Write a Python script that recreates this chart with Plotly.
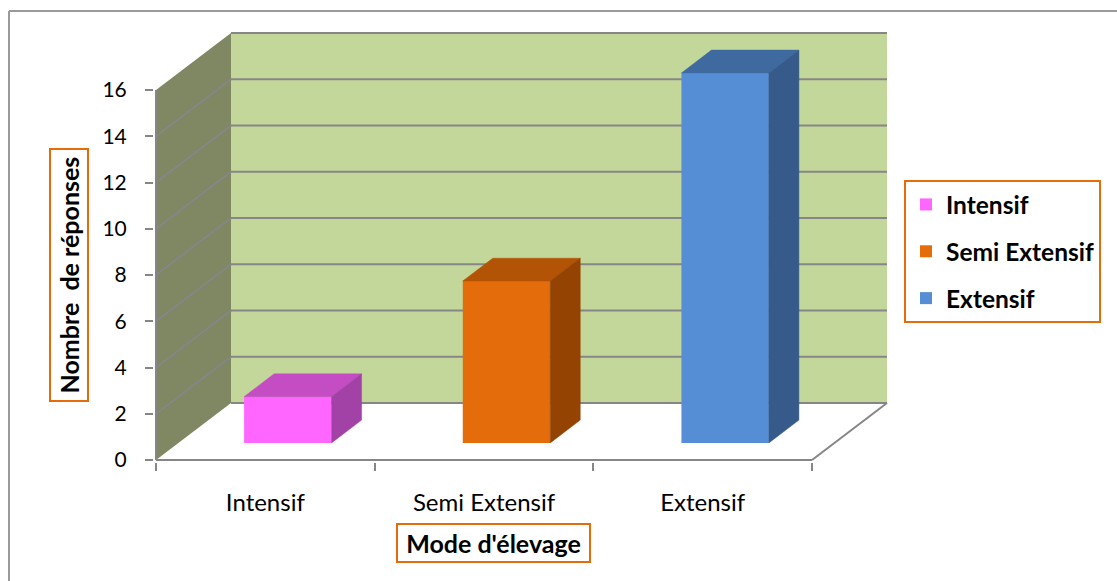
import plotly.graph_objects as go

# ---------------- data ----------------
categories = ["Intensif", "Semi Extensif", "Extensif"]
values = [2, 7, 16]
y_ticks = [0, 2, 4, 6, 8, 10, 12, 14, 16]
y_title = "Nombre \u00a0de réponses"
x_title = "Mode d'élevage"

# ---------------- style ----------------
front_colors = ["#FF66FF", "#E46C0A", "#558ED5"]
top_colors = ["#C44DC4", "#B35305", "#3F6AA0"]
side_colors = ["#A241A6", "#944303", "#365B8A"]
BACK_WALL = "#C4D79B"
SIDE_WALL = "#7F8763"
GRID = "#868686"
ORANGE = "#E46C0A"
FONT = "Lato"

W, H = 1117, 581
X0PX, Y0PX = 156, 460            # pixel of (x=0, y=0) on the front plane
XPU, YPU = 218.67, 23.125         # pixels per unit
DX, DY = 75 / XPU, 57 / YPU       # depth offset in axis units
D0, D1 = 0.3, 0.7                 # bar depth span (fraction of depth)
BW = 0.4                          # bar width in category units
YMAX = y_ticks[-1]
NC = len(categories)

PL, PR, PT, PB = 154, 889, 31, 462   # plot area pixels
xrange_ = [(PL - X0PX) / XPU, (PR - X0PX) / XPU]
yrange_ = [(Y0PX - PB) / YPU, (Y0PX - PT) / YPU]
pw, ph = PR - PL, PB - PT


def px_x(px):
    return (px - PL) / pw


def px_y(py):
    return (PB - py) / ph


fig = go.Figure()

# bars: front faces (legend entries)
for i, (c, v) in enumerate(zip(categories, values)):
    fig.add_trace(go.Bar(
        x=[i + 0.5 + D0 * DX], y=[v], base=[D0 * DY], width=[BW],
        name=c, legendgroup=c,
        marker=dict(color=front_colors[i], line=dict(width=0)),
        hoverinfo="skip",
    ))

# bars: top and side faces
for i, (c, v) in enumerate(zip(categories, values)):
    xl = i + 0.5 - BW / 2
    xr = i + 0.5 + BW / 2
    top_x = [xl + D0 * DX, xr + D0 * DX, xr + D1 * DX, xl + D1 * DX, xl + D0 * DX]
    top_y = [v + D0 * DY, v + D0 * DY, v + D1 * DY, v + D1 * DY, v + D0 * DY]
    side_x = [xr + D0 * DX, xr + D1 * DX, xr + D1 * DX, xr + D0 * DX, xr + D0 * DX]
    side_y = [D0 * DY, D1 * DY, v + D1 * DY, v + D0 * DY, D0 * DY]
    fig.add_trace(go.Scatter(x=top_x, y=top_y, fill="toself", mode="lines",
                             fillcolor=top_colors[i], line=dict(color=top_colors[i], width=0.5),
                             showlegend=False, hoverinfo="skip", legendgroup=c))
    fig.add_trace(go.Scatter(x=side_x, y=side_y, fill="toself", mode="lines",
                             fillcolor=side_colors[i], line=dict(color=side_colors[i], width=0.5),
                             showlegend=False, hoverinfo="skip", legendgroup=c))

shapes = []
# walls
shapes.append(dict(type="path", layer="below", xref="x", yref="y",
                   path=f"M 0,0 L 0,{YMAX} L {DX},{YMAX + DY} L {DX},{DY} Z",
                   fillcolor=SIDE_WALL, line=dict(width=0)))
shapes.append(dict(type="rect", layer="below", xref="x", yref="y",
                   x0=DX, y0=DY, x1=NC + DX, y1=YMAX + DY,
                   fillcolor=BACK_WALL, line=dict(width=0)))
# gridlines
for v in y_ticks:
    shapes.append(dict(type="line", layer="below", xref="x", yref="y",
                       x0=DX, y0=v + DY, x1=NC + DX, y1=v + DY,
                       line=dict(color=GRID, width=2)))
    if 0 < v < YMAX:
        shapes.append(dict(type="line", layer="below", xref="x", yref="y",
                           x0=0, y0=v, x1=DX, y1=v + DY,
                           line=dict(color=GRID, width=2)))
# front axis line and floor edges
shapes.append(dict(type="line", layer="below", xref="x", yref="y",
                   x0=0, y0=0, x1=0, y1=YMAX, line=dict(color=GRID, width=2)))
shapes.append(dict(type="line", layer="below", xref="x", yref="y",
                   x0=0, y0=0, x1=NC, y1=0, line=dict(color=GRID, width=2)))
shapes.append(dict(type="line", layer="below", xref="x", yref="y",
                   x0=NC, y0=0, x1=NC + DX, y1=DY, line=dict(color=GRID, width=2)))
# outer chart border (left + top)
shapes.append(dict(type="line", xref="paper", yref="paper",
                   x0=px_x(9), y0=px_y(11), x1=px_x(9), y1=px_y(H + 5),
                   line=dict(color="#9A9A9A", width=2)))
shapes.append(dict(type="line", xref="paper", yref="paper",
                   x0=px_x(9), y0=px_y(11), x1=px_x(W + 5), y1=px_y(11),
                   line=dict(color="#9A9A9A", width=2)))

annotations = [
    dict(text=f"<b>{x_title}</b>", xref="paper", yref="paper",
         x=px_x(493.5), y=px_y(543), xanchor="center", yanchor="middle",
         showarrow=False, font=dict(family=FONT, size=25, color="black"),
         bordercolor=ORANGE, borderwidth=2, borderpad=0, width=191, height=36,
         bgcolor="white"),
    dict(text=f"<b>{y_title}</b>", xref="paper", yref="paper",
         x=px_x(69), y=px_y(275), xanchor="center", yanchor="middle",
         showarrow=False, textangle=-90, font=dict(family=FONT, size=25, color="black"),
         bordercolor=ORANGE, borderwidth=2, borderpad=0, width=250, height=36,
         bgcolor="white"),
]

fig.update_layout(
    width=W, height=H, autosize=False,
    margin=dict(l=PL, r=W - PR, t=PT, b=H - PB, pad=0),
    paper_bgcolor="white", plot_bgcolor="white",
    barmode="overlay",
    showlegend=True,
    legend=dict(xref="container", yref="container",
                x=904 / W, y=1 - 180 / H, xanchor="left", yanchor="top",
                bordercolor=ORANGE, borderwidth=2, bgcolor="white",
                font=dict(family=FONT, size=24.5, color="black", weight="bold"),
                tracegroupgap=12, traceorder="grouped"),
    shapes=shapes,
    annotations=annotations,
    font=dict(family=FONT, color="black"),
)

fig.update_xaxes(range=xrange_, showgrid=False, zeroline=False, showline=False,
                 tickmode="array", tickvals=[i + 0.5 for i in range(NC)], ticktext=categories,
                 ticks="", ticklabelstandoff=24, tickfont=dict(family=FONT, size=24, color="black"),
                 minor=dict(tickmode="array", tickvals=list(range(NC + 1)), ticks="outside",
                            ticklen=8, tickwidth=2, tickcolor=GRID, showgrid=False),
                 automargin=False, fixedrange=True)
fig.update_yaxes(range=yrange_, showgrid=False, zeroline=False, showline=False,
                 tickmode="array", tickvals=y_ticks, ticks="outside", ticklen=8,
                 tickwidth=2, tickcolor=GRID, ticklabelstandoff=14,
                 tickfont=dict(family=FONT, size=21, color="black"),
                 automargin=False, fixedrange=True)

fig.write_html("out.html")
